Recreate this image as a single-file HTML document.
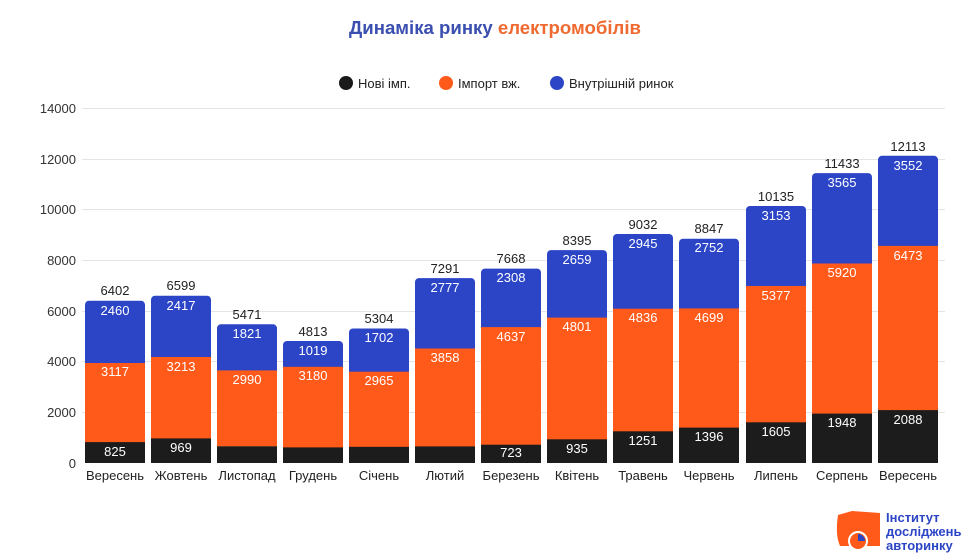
<!DOCTYPE html>
<html><head><meta charset="utf-8"><style>
html,body{margin:0;padding:0;background:#fff}
svg{display:block;font-family:"Liberation Sans",sans-serif}
</style></head><body>
<svg width="980" height="560" viewBox="0 0 980 560" xmlns="http://www.w3.org/2000/svg">
<text x="495" y="34" text-anchor="middle" font-size="18.6" font-weight="bold"><tspan fill="#3a4fb0">Динаміка ринку </tspan><tspan fill="#ef6a30">електромобілів</tspan></text>
<g font-size="13" fill="#222">
<circle cx="346" cy="83" r="7" fill="#1a1a1a"/><text x="358" y="88">Нові імп.</text>
<circle cx="446" cy="83" r="7" fill="#ff5a1a"/><text x="458" y="88">Імпорт вж.</text>
<circle cx="557" cy="83" r="7" fill="#2b45c6"/><text x="569" y="88">Внутрішній ринок</text>
</g>
<g stroke="#e4e4e4" stroke-width="1">
<line x1="82" x2="945" y1="108.5" y2="108.5"/><line x1="82" x2="945" y1="159.5" y2="159.5"/><line x1="82" x2="945" y1="209.5" y2="209.5"/><line x1="82" x2="945" y1="260.5" y2="260.5"/><line x1="82" x2="945" y1="311.5" y2="311.5"/><line x1="82" x2="945" y1="361.5" y2="361.5"/><line x1="82" x2="945" y1="412.5" y2="412.5"/>
</g>
<g font-size="13" fill="#333" text-anchor="end">
<text x="76" y="113">14000</text><text x="76" y="164">12000</text><text x="76" y="214">10000</text><text x="76" y="265">8000</text><text x="76" y="316">6000</text><text x="76" y="366">4000</text><text x="76" y="417">2000</text><text x="76" y="468">0</text>
</g>
<g>
<g fill="#2b45c6">
<rect x="85" y="300.7" width="60" height="66" rx="4"/>
<rect x="151" y="295.7" width="60" height="66" rx="4"/>
<rect x="217" y="324.3" width="60" height="50" rx="4"/>
<rect x="283" y="341" width="60" height="30" rx="4"/>
<rect x="349" y="328.5" width="60" height="47" rx="4"/>
<rect x="415" y="278.1" width="60" height="74" rx="4"/>
<rect x="481" y="268.6" width="60" height="63" rx="4"/>
<rect x="547" y="250.1" width="60" height="72" rx="4"/>
<rect x="613" y="234" width="60" height="79" rx="4"/>
<rect x="679" y="238.7" width="60" height="74" rx="4"/>
<rect x="746" y="206" width="60" height="84" rx="4"/>
<rect x="812" y="173.1" width="60" height="95" rx="4"/>
<rect x="878" y="155.8" width="60" height="95" rx="4"/>
</g>
<g fill="#ff5a1a">
<rect x="85" y="363" width="60" height="80"/>
<rect x="151" y="357" width="60" height="82"/>
<rect x="217" y="370.4" width="60" height="76"/>
<rect x="283" y="366.8" width="60" height="81"/>
<rect x="349" y="371.7" width="60" height="76"/>
<rect x="415" y="348.5" width="60" height="98"/>
<rect x="481" y="327.1" width="60" height="118"/>
<rect x="547" y="317.6" width="60" height="122"/>
<rect x="613" y="308.7" width="60" height="123"/>
<rect x="679" y="308.4" width="60" height="120"/>
<rect x="746" y="286" width="60" height="137"/>
<rect x="812" y="263.5" width="60" height="151"/>
<rect x="878" y="245.9" width="60" height="165"/>
</g>
<g fill="#1c1c1c">
<rect x="85" y="442.1" width="60" height="20.9"/>
<rect x="151" y="438.4" width="60" height="24.6"/>
<rect x="217" y="446.3" width="60" height="16.7"/>
<rect x="283" y="447.4" width="60" height="15.6"/>
<rect x="349" y="446.8" width="60" height="16.2"/>
<rect x="415" y="446.4" width="60" height="16.6"/>
<rect x="481" y="444.7" width="60" height="18.3"/>
<rect x="547" y="439.3" width="60" height="23.7"/>
<rect x="613" y="431.3" width="60" height="31.7"/>
<rect x="679" y="427.6" width="60" height="35.4"/>
<rect x="746" y="422.3" width="60" height="40.7"/>
<rect x="812" y="413.6" width="60" height="49.4"/>
<rect x="878" y="410.1" width="60" height="52.9"/>
</g>
</g>
<g font-size="13" text-anchor="middle" fill="#fff">
<text x="115" y="315">2460</text><text x="115" y="376">3117</text><text x="115" y="456">825</text>
<text x="181" y="310">2417</text><text x="181" y="371">3213</text><text x="181" y="452">969</text>
<text x="247" y="338">1821</text><text x="247" y="384">2990</text>
<text x="313" y="355">1019</text><text x="313" y="380">3180</text>
<text x="379" y="342">1702</text><text x="379" y="385">2965</text>
<text x="445" y="292">2777</text><text x="445" y="362">3858</text>
<text x="511" y="282">2308</text><text x="511" y="341">4637</text><text x="511" y="457">723</text>
<text x="577" y="264">2659</text><text x="577" y="331">4801</text><text x="577" y="453">935</text>
<text x="643" y="248">2945</text><text x="643" y="322">4836</text><text x="643" y="445">1251</text>
<text x="709" y="252">2752</text><text x="709" y="322">4699</text><text x="709" y="441">1396</text>
<text x="776" y="220">3153</text><text x="776" y="300">5377</text><text x="776" y="436">1605</text>
<text x="842" y="187">3565</text><text x="842" y="277">5920</text><text x="842" y="427">1948</text>
<text x="908" y="170">3552</text><text x="908" y="260">6473</text><text x="908" y="424">2088</text>
</g>
<g font-size="13" text-anchor="middle" fill="#222">
<text x="115" y="295">6402</text><text x="181" y="290">6599</text><text x="247" y="319">5471</text><text x="313" y="336">4813</text><text x="379" y="323">5304</text><text x="445" y="273">7291</text><text x="511" y="263">7668</text><text x="577" y="245">8395</text><text x="643" y="229">9032</text><text x="709" y="233">8847</text><text x="776" y="201">10135</text><text x="842" y="168">11433</text><text x="908" y="151">12113</text>
</g>
<g font-size="13" text-anchor="middle" fill="#222">
<text x="115" y="480">Вересень</text><text x="181" y="480">Жовтень</text><text x="247" y="480">Листопад</text><text x="313" y="480">Грудень</text><text x="379" y="480">Січень</text><text x="445" y="480">Лютий</text><text x="511" y="480">Березень</text><text x="577" y="480">Квітень</text><text x="643" y="480">Травень</text><text x="709" y="480">Червень</text><text x="776" y="480">Липень</text><text x="842" y="480">Серпень</text><text x="908" y="480">Вересень</text>
</g>
<g>
<path d="M838 515 L852 511 L880 513 L880 546 L840 546 Q835 535 838 515 Z" fill="#ff5a1a"/>
<circle cx="858" cy="541" r="9" fill="#ff5a1a" stroke="#fff" stroke-width="2"/>
<path d="M858 534 A7 7 0 0 1 865 541 L858 541 Z" fill="#2b45c6"/>
<g font-size="13" font-weight="bold" fill="#2b45c6">
<text x="886" y="522">Інститут</text><text x="886" y="536">досліджень</text><text x="886" y="550">авторинку</text>
</g>
</g>
</svg>
</body></html>
